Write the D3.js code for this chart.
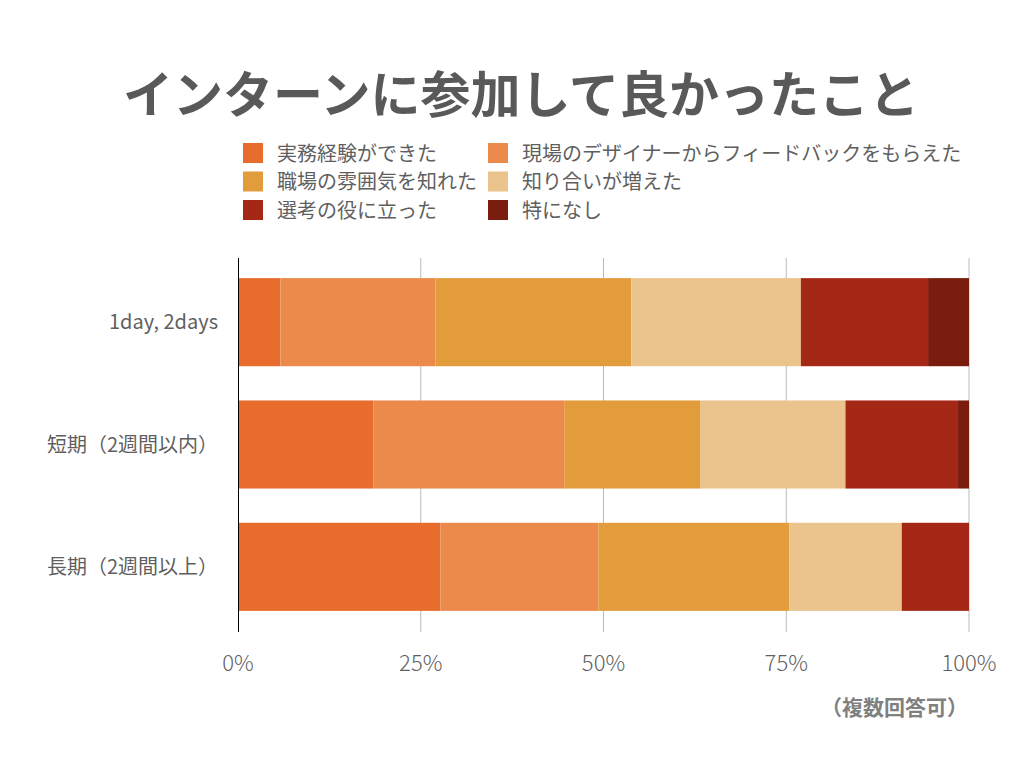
<!DOCTYPE html>
<html><head><meta charset="utf-8">
<script src="https://cdn.jsdelivr.net/npm/d3@7"></script>
<style>
body{margin:0;background:#fff;}
text{font-family:"Noto Sans CJK JP","Noto Sans",sans-serif;}
</style></head>
<body><svg id="c" width="1024" height="768"></svg>
<script>
const categories = ["1day, 2days", "短期（2週間以内）", "長期（2週間以上）"];
const seriesNames = ["実務経験ができた", "現場のデザイナーからフィードバックをもらえた", "職場の雰囲気を知れた", "知り合いが増えた", "選考の役に立った", "特になし"];
const series0 = [5.8, 18.5, 27.7];
const series1 = [21.2, 26.2, 21.6];
const series2 = [26.8, 18.5, 26.1];
const series3 = [23.2, 19.9, 15.4];
const series4 = [17.4, 15.4, 9.2];
const series5 = [5.6, 1.5, 0];
const colors = ["#E86C2C", "#EB8A4A", "#E39C3B", "#EAC48C", "#A52816", "#7A1C0E"];
const tickValues = [0, 25, 50, 75, 100];
const allSeries = [series0, series1, series2, series3, series4, series5];

const svg = d3.select("#c");
const x = d3.scaleLinear().domain([0, 100]).range([238, 969]);
const y = d3.scaleBand().domain(categories).range([261, 628]).paddingInner(0.28).paddingOuter(0.14);

svg.append("text").attr("x", 521).attr("y", 113).attr("text-anchor", "middle")
  .attr("font-size", 50).attr("font-weight", "bold").attr("fill", "#595959")
  .text("インターンに参加して良かったこと");

// legend
seriesNames.forEach((n, i) => {
  const col = i % 2, row = Math.floor(i / 2);
  const lx = col === 0 ? 243 : 488, ly = 143 + row * 28.5;
  svg.append("rect").attr("x", lx).attr("y", ly).attr("width", 20).attr("height", 20).attr("fill", colors[i]);
  svg.append("text").attr("x", lx + 34).attr("y", ly + 17.5).attr("font-size", 20).attr("fill", "#5f5f5f").text(n);
});

// grid
svg.append("g").selectAll("line").data(tickValues.slice(1)).join("line")
  .attr("x1", d => x(d)).attr("x2", d => x(d)).attr("y1", 258).attr("y2", 632)
  .attr("stroke", "#bbb").attr("stroke-width", 1);

// stacked bars
const rows = categories.map((c, i) => {
  const o = {cat: c};
  seriesNames.forEach((s, j) => o[s] = allSeries[j][i]);
  return o;
});
const stack = d3.stack().keys(seriesNames)(rows);
svg.append("g").selectAll("g").data(stack).join("g")
  .attr("fill", (d, i) => colors[i])
  .selectAll("rect").data(d => d).join("rect")
  .attr("x", d => x(d[0])).attr("width", d => Math.max(0, x(d[1]) - x(d[0])))
  .attr("y", d => y(d.data.cat)).attr("height", y.bandwidth());

// axis line
svg.append("line").attr("x1", 238.5).attr("x2", 238.5).attr("y1", 258).attr("y2", 632)
  .attr("stroke", "#000").attr("stroke-width", 1);

// y labels
svg.append("g").selectAll("text").data(categories).join("text")
  .attr("x", 218).attr("y", d => y(d) + y.bandwidth() / 2 + 7)
  .attr("text-anchor", "end").attr("font-size", 20).attr("fill", "#5f5f5f").text(d => d);

// x tick labels
svg.append("g").selectAll("text").data(tickValues).join("text")
  .attr("x", d => x(d)).attr("y", 671).attr("text-anchor", "middle")
  .attr("font-size", 22).attr("font-weight", 300).attr("fill", "#5f5f5f").text(d => d + "%");

svg.append("text").attr("x", 968).attr("y", 715).attr("text-anchor", "end")
  .attr("font-size", 21).attr("font-weight", "bold").attr("fill", "#808080").text("（複数回答可）");
</script></body></html>
